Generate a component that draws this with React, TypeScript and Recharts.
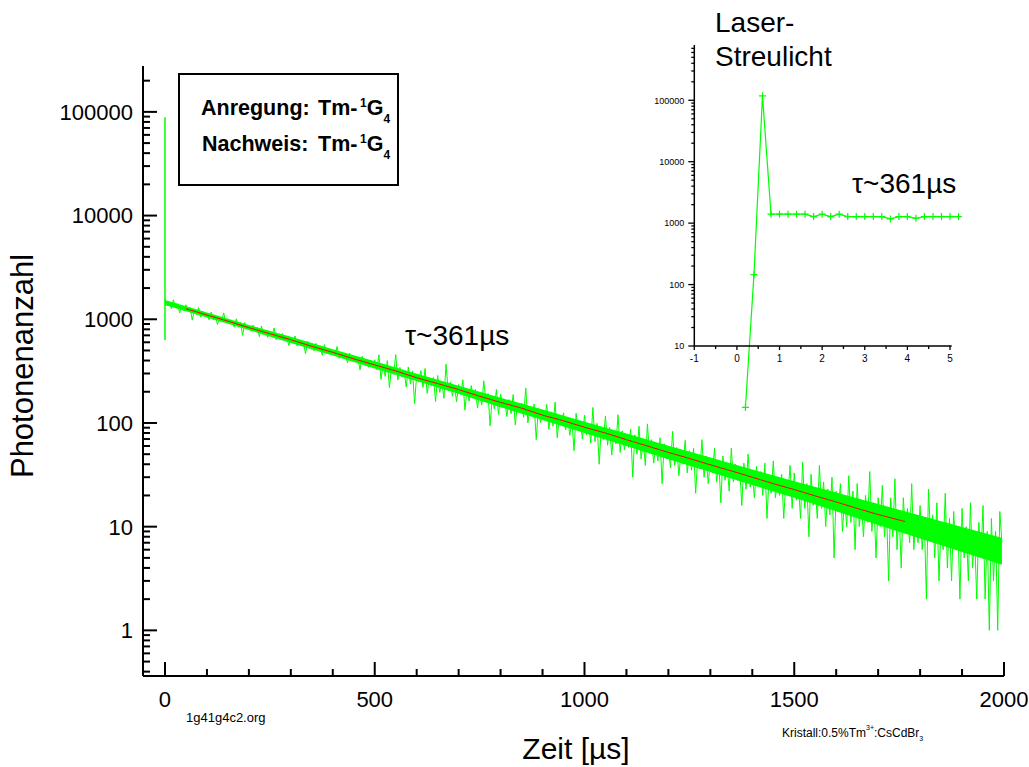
import React from "react"
import { Area, ComposedChart, Line, XAxis, YAxis } from "recharts"

const GREEN = "#00ff00"
const RED = "#ff0000"
const FONT = "'Liberation Sans', Arial, Helvetica, sans-serif"

// decay trace: alternating high / low readings, one every 5 µs
const decayStep = 5
const decay0to495 = [
  1580, 1350, 1450, 1270, 1540, 1320, 1420, 1150, 1340, 1210,
  1380, 1210, 1300, 980, 1230, 1110, 1300, 1050, 1200, 1080,
  1130, 990, 1170, 990, 1100, 890, 1040, 970, 1150, 920,
  1010, 920, 960, 840, 1010, 840, 930, 700, 930, 820,
  860, 770, 880, 780, 835, 680, 860, 715, 770, 670,
  770, 695, 825, 635, 710, 640, 730, 640, 690, 560,
  650, 590, 690, 555, 635, 575, 600, 465, 615, 525,
  585, 495, 585, 515, 535, 450, 570, 470, 520, 475,
  495, 445, 545, 420, 480, 435, 455, 380, 470, 400,
  440, 400, 420, 325, 440, 365, 405, 345, 405, 360,
]
const decay500to995 = [
  407, 327, 454, 263, 367, 281, 399, 219, 347, 293,
  456, 259, 344, 276, 320, 222, 347, 239, 318, 154,
  294, 248, 320, 220, 335, 193, 270, 228, 276, 161,
  287, 197, 249, 173, 369, 204, 248, 181, 230, 160,
  235, 188, 261, 133, 212, 162, 229, 173, 210, 139,
  195, 149, 255, 159, 193, 94, 179, 137, 210, 121,
  189, 142, 165, 115, 168, 123, 188, 96, 152, 128,
  155, 113, 218, 100, 139, 117, 152, 69, 138, 101,
  128, 108, 151, 87, 128, 93, 159, 72, 114, 96,
  125, 86, 114, 76, 106, 54, 124, 86, 105, 70,
]
const decay1000to1495 = [
  119, 77, 98, 64, 141, 66, 99, 40, 90, 69,
  117, 61, 91, 49, 82, 63, 120, 52, 84, 55,
  76, 58, 87, 30, 77, 50, 93, 45, 68, 39,
  98, 51, 69, 41, 61, 43, 72, 26, 63, 45,
  57, 37, 83, 39, 58, 31, 52, 40, 68, 33,
  54, 35, 57, 21, 47, 36, 69, 30, 48, 26,
  43, 33, 57, 27, 44, 17, 48, 28, 39, 22,
  57, 27, 40, 28, 36, 16, 41, 23, 50, 24,
  33, 19, 38, 25, 34, 20, 41, 12, 30, 21,
  43, 19, 28, 20, 32, 12, 28, 20, 39, 15,
]
const decay1500to1995 = [
  33, 18, 25, 12, 42, 15, 26, 8, 32, 16,
  23, 12, 39, 15, 27, 10, 23, 13, 30, 5,
  22, 14, 26, 9, 19, 10, 31, 11, 22, 6,
  26, 10, 17, 8, 20, 11, 34, 9, 17, 5,
  19, 10, 25, 8, 14, 3, 19, 8, 29, 6,
  14, 4, 19, 9, 15, 7, 26, 6, 12, 7,
  16, 6, 12, 2, 23, 8, 13, 5, 17, 3,
  10, 6, 21, 4, 12, 3, 14, 6, 10, 2,
  15, 5, 10, 3, 17, 4, 8, 2, 11, 5,
  16, 2, 9, 1, 12, 3, 9, 1, 14, 7,
]

// dense core of the noisy band, every 100 µs (last at 1995)
const coreTimes = [
  0, 100, 200, 300, 400, 500, 600, 700, 800, 900, 1000, 1100, 1200, 1300, 1400, 1500,
  1600, 1700, 1800, 1900, 1995,
]
const coreLow = [
  1370, 1038, 787, 590, 447, 335, 254, 191, 142, 107, 80, 60, 44.8, 33.7, 25.2, 19,
  14.1, 10.4, 7.7, 5.7, 4.3,
]
const coreHigh = [
  1535, 1164, 882, 677, 513, 393, 298, 229, 175, 135, 103, 79, 60.3, 46.5, 35.6, 27.4,
  21.3, 16.5, 12.8, 9.9, 7.8,
]

// laser scatter spike at t = 0
const spikeCounts = [630, 89000]

// exponential fit (tau ~ 361 µs)
const fitTimes = [
  50, 100, 150, 200, 250, 300, 350, 400, 450, 500, 550, 600, 650, 700, 750, 800, 850,
  900, 950, 1000, 1050, 1100, 1150, 1200, 1250, 1300, 1350, 1400, 1450, 1500, 1550,
  1600, 1650, 1700, 1764,
]
const fitValues = [
  1263, 1099, 960, 830, 726, 635, 548, 480, 415, 363, 318, 273, 240, 210, 181, 158, 139,
  119, 105, 91, 80, 69, 60, 52, 45.5, 39.5, 34.5, 30, 26, 22.8, 19.8,
  17.3, 15, 13.1, 11.2,
]

// inset: first microseconds
const insetTimes = [
  0.2, 0.4, 0.6, 0.8, 1.0, 1.2, 1.4, 1.6, 1.8, 2.0, 2.2, 2.4, 2.6, 2.8, 3.0, 3.2, 3.4,
  3.6, 3.8, 4.0, 4.2, 4.4, 4.6, 4.8, 5.0, 5.2,
]
const insetCounts = [
  1, 145, 118000, 1400, 1400, 1400, 1400, 1400, 1280, 1400, 1280, 1400, 1280, 1280, 1280,
  1280, 1280, 1170, 1280, 1280, 1200, 1280, 1280, 1280, 1280, 1280,
]

const mainXMajor = [0, 500, 1000, 1500, 2000]
const mainYMajor = [1, 10, 100, 1000, 10000, 100000]
const insetXMajor = [-1, 0, 1, 2, 3, 4, 5]
const insetYMajor = [10, 100, 1000, 10000, 100000]

const MAIN_Y_DOMAIN: [number, number] = [0.363, 277000]
const INSET_Y_DOMAIN: [number, number] = [10, 794000]

const decayData = [...decay0to495, ...decay500to995, ...decay1000to1495, ...decay1500to1995].map(
  (v, i) => ({ t: i * decayStep, v })
)
const coreData = coreTimes.map((t, i) => ({ t, range: [coreLow[i], coreHigh[i]] }))
const spikeData = spikeCounts.map((v) => ({ t: 0, v }))
const fitData = fitTimes.map((t, i) => ({ t, v: fitValues[i] }))
const insetData = insetTimes.map((t, i) => ({ t, v: insetCounts[i] }))

const minorsOf = (majors: number[], lo: number, hi: number) =>
  [majors[0] / 10, ...majors]
    .flatMap((d) => [2, 3, 4, 5, 6, 7, 8, 9].map((m) => d * m))
    .filter((v) => v > lo && v < hi)

const mainYTicks = [...mainYMajor, ...minorsOf(mainYMajor, MAIN_Y_DOMAIN[0], MAIN_Y_DOMAIN[1])]
const mainXTicks = Array.from({ length: 21 }, (_, i) => i * 100)
const insetYTicks = [...insetYMajor, ...minorsOf(insetYMajor, INSET_Y_DOMAIN[0], INSET_Y_DOMAIN[1])]
const insetXTicks = Array.from({ length: 13 }, (_, i) => -1 + i * 0.5)

function MainYTick({ x, y, payload }: any) {
  const major = mainYMajor.includes(payload.value)
  return (
    <g>
      <line x1={x} x2={x + (major ? 14 : 7)} y1={y} y2={y} stroke="#000" strokeWidth={2} />
      {major && (
        <text x={x - 10} y={y} dy="0.36em" textAnchor="end" fontSize={22} fontFamily={FONT} fill="#000">
          {payload.value}
        </text>
      )}
    </g>
  )
}

function MainXTick({ x, y, payload }: any) {
  const major = mainXMajor.includes(payload.value)
  return (
    <g>
      <line x1={x} x2={x} y1={y} y2={y - (major ? 14 : 7)} stroke="#000" strokeWidth={2} />
      {major && (
        <text x={x} y={y + 31} textAnchor="middle" fontSize={22} fontFamily={FONT} fill="#000">
          {payload.value}
        </text>
      )}
    </g>
  )
}

function InsetYTick({ x, y, payload }: any) {
  const major = insetYMajor.includes(payload.value)
  return (
    <g>
      <line x1={x} x2={x - (major ? 6 : 3)} y1={y} y2={y} stroke="#000" strokeWidth={1.3} />
      {major && (
        <text x={x - 10} y={y} dy="0.36em" textAnchor="end" fontSize={9} fontFamily={FONT} fill="#000">
          {payload.value}
        </text>
      )}
    </g>
  )
}

function InsetXTick({ x, y, payload }: any) {
  const major = insetXMajor.includes(payload.value)
  return (
    <g>
      <line x1={x} x2={x} y1={y} y2={y + (major ? 4 : 3)} stroke="#000" strokeWidth={1.3} />
      {major && (
        <text x={x} y={y + 16} textAnchor="middle" fontSize={10} fontFamily={FONT} fill="#000">
          {payload.value}
        </text>
      )}
    </g>
  )
}

function PlusDot({ cx, cy, index }: any) {
  if (cx == null || cy == null) return <g key={index} />
  return (
    <path
      key={index}
      d={`M${cx - 3.5},${cy}h7M${cx},${cy - 3.5}v7`}
      stroke={GREEN}
      strokeWidth={1.2}
      fill="none"
    />
  )
}

function Annotations() {
  return (
    <svg width={1029} height={767} style={{ position: "absolute", left: 0, top: 0 }} fontFamily={FONT}>
      <rect x={179} y={74} width={219} height={111} fill="none" stroke="#000" strokeWidth={2} />
      <text y={115} fontSize={21.5} fontWeight="bold">
        <tspan x={201}>Anregung:</tspan>
        <tspan x={318}>Tm-</tspan>
        <tspan x={360} fontSize={12} dy={-8}>1</tspan>
        <tspan fontSize={21.5} dy={8}>G</tspan>
        <tspan fontSize={12} dy={8}>4</tspan>
      </text>
      <text y={151} fontSize={21.5} fontWeight="bold">
        <tspan x={202}>Nachweis:</tspan>
        <tspan x={318}>Tm-</tspan>
        <tspan x={360} fontSize={12} dy={-8}>1</tspan>
        <tspan fontSize={21.5} dy={8}>G</tspan>
        <tspan fontSize={12} dy={8}>4</tspan>
      </text>

      <text x={33} y={366} transform="rotate(-90 33 366)" textAnchor="middle" fontSize={31}>
        Photonenanzahl
      </text>
      <text x={576} y={759} textAnchor="middle" fontSize={30}>
        Zeit [µs]
      </text>
      <text x={405} y={345} fontSize={28}>
        τ~361µs
      </text>

      <text x={715} y={32} fontSize={28}>Laser-</text>
      <text x={715} y={66} fontSize={28}>Streulicht</text>
      <text x={852} y={193} fontSize={28}>
        τ~361µs
      </text>

      <text x={186} y={722} fontSize={13}>1g41g4c2.org</text>
      <text x={782} y={737} fontSize={12}>
        Kristall:0.5%Tm
        <tspan fontSize={7} dy={-7}>3+</tspan>
        <tspan fontSize={12} dy={7}>:CsCdBr</tspan>
        <tspan fontSize={7} dy={4}>3</tspan>
      </text>
    </svg>
  )
}

export default function App() {
  return (
    <div
      style={{
        position: "absolute",
        left: 0,
        top: 0,
        width: 1029,
        height: 767,
        background: "#fff",
        fontFamily: FONT,
        overflow: "hidden",
      }}
    >
      <style>{".inset *{clip-path:none !important}"}</style>

      <div style={{ position: "absolute", left: 0, top: 0 }}>
        <ComposedChart width={1029} height={767} margin={{ top: 66, right: 25, bottom: 61, left: 83 }}>
          <XAxis
            type="number"
            dataKey="t"
            domain={[-52.4, 2000]}
            allowDataOverflow
            ticks={mainXTicks}
            interval={0}
            height={30}
            tickSize={0}
            tickMargin={0}
            tickLine={false}
            axisLine={{ stroke: "#000", strokeWidth: 2 }}
            tick={(p: any) => <MainXTick {...p} />}
          />
          <YAxis
            type="number"
            scale="log"
            domain={MAIN_Y_DOMAIN}
            allowDataOverflow
            ticks={mainYTicks}
            interval={0}
            width={60}
            tickSize={0}
            tickMargin={0}
            tickLine={false}
            axisLine={{ stroke: "#000", strokeWidth: 2 }}
            tick={(p: any) => <MainYTick {...p} />}
          />
          <Area
            data={coreData}
            dataKey="range"
            type="linear"
            stroke="none"
            fill={GREEN}
            fillOpacity={1}
            dot={false}
            activeDot={false}
            isAnimationActive={false}
          />
          <Line
            data={decayData}
            dataKey="v"
            type="linear"
            stroke={GREEN}
            strokeWidth={1}
            dot={false}
            activeDot={false}
            isAnimationActive={false}
          />
          <Line
            data={spikeData}
            dataKey="v"
            type="linear"
            stroke={GREEN}
            strokeWidth={1.5}
            dot={false}
            activeDot={false}
            isAnimationActive={false}
          />
          <Line
            data={fitData}
            dataKey="v"
            type="linear"
            stroke={RED}
            strokeWidth={1}
            dot={false}
            activeDot={false}
            isAnimationActive={false}
          />
        </ComposedChart>
      </div>

      <div className="inset" style={{ position: "absolute", left: 0, top: 0 }}>
        <ComposedChart width={1029} height={767} margin={{ top: 45, right: 77.3, bottom: 391, left: 634.3 }}>
          <XAxis
            type="number"
            dataKey="t"
            domain={[-1, 5.04]}
            allowDataOverflow
            ticks={insetXTicks}
            interval={0}
            height={30}
            tickSize={0}
            tickMargin={0}
            tickLine={false}
            axisLine={{ stroke: "#000", strokeWidth: 1.5 }}
            tick={(p: any) => <InsetXTick {...p} />}
          />
          <YAxis
            type="number"
            scale="log"
            domain={INSET_Y_DOMAIN}
            allowDataOverflow
            ticks={insetYTicks}
            interval={0}
            width={60}
            tickSize={0}
            tickMargin={0}
            tickLine={false}
            axisLine={{ stroke: "#000", strokeWidth: 1.5 }}
            tick={(p: any) => <InsetYTick {...p} />}
          />
          <Line
            data={insetData}
            dataKey="v"
            type="linear"
            stroke={GREEN}
            strokeWidth={1.2}
            dot={(p: any) => <PlusDot key={p.index} {...p} />}
            activeDot={false}
            isAnimationActive={false}
          />
        </ComposedChart>
      </div>

      <Annotations />
    </div>
  )
}
